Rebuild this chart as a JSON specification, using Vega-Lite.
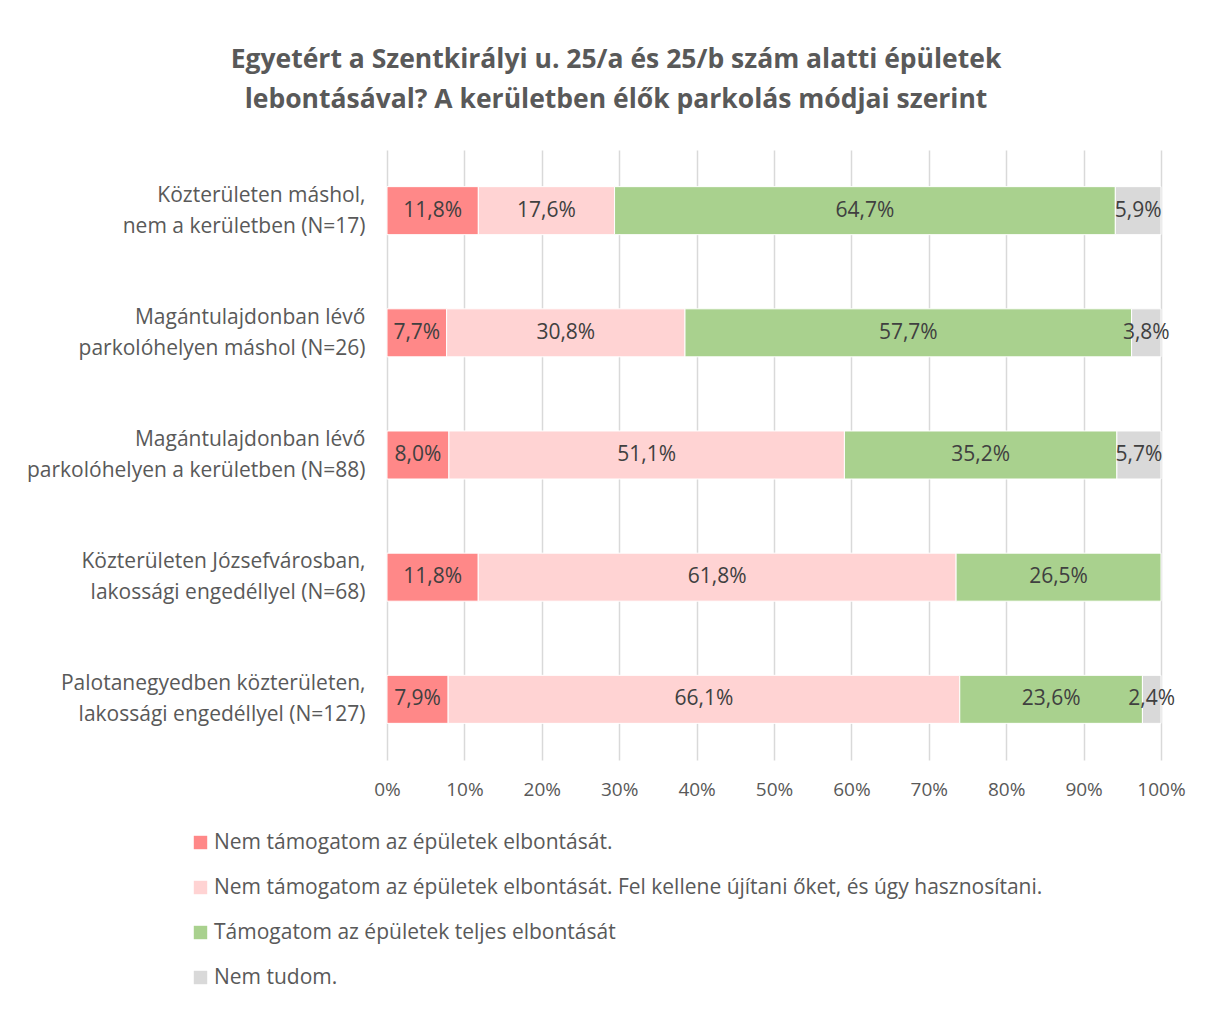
{
  "$schema": "https://vega.github.io/schema/vega-lite/v6.json",
  "autosize": "none",
  "width": 774,
  "height": 610,
  "padding": {"left": 387, "top": 150, "right": 47, "bottom": 252},
  "background": "white",
  "config": {
    "font": "Open Sans",
    "view": {"stroke": null},
    "locale": {"number": {"decimal": ",", "thousands": " ", "grouping": [3], "currency": ["", " Ft"]}}
  },
  "title": {
    "text": ["Egyetért a Szentkirályi u. 25/a és 25/b szám alatti épületek", "lebontásával? A kerületben élők parkolás módjai szerint"],
    "font": "Open Sans",
    "fontSize": 26.5,
    "fontWeight": "bold",
    "color": "#595959",
    "lineHeight": 40,
    "anchor": "middle",
    "dx": -158,
    "offset": 37
  },
  "data": {"values": [
    {"grp": "Közterületen máshol,|nem a kerületben  (N=17)", "cat": "Nem támogatom az épületek elbontását.", "ci": 1, "v": 0.118},
    {"grp": "Közterületen máshol,|nem a kerületben  (N=17)", "cat": "Nem támogatom az épületek elbontását. Fel kellene újítani őket, és úgy hasznosítani.", "ci": 2, "v": 0.176},
    {"grp": "Közterületen máshol,|nem a kerületben  (N=17)", "cat": "Támogatom az épületek teljes elbontását", "ci": 3, "v": 0.647},
    {"grp": "Közterületen máshol,|nem a kerületben  (N=17)", "cat": "Nem tudom.", "ci": 4, "v": 0.059},
    {"grp": "Magántulajdonban lévő|parkolóhelyen máshol (N=26)", "cat": "Nem támogatom az épületek elbontását.", "ci": 1, "v": 0.077},
    {"grp": "Magántulajdonban lévő|parkolóhelyen máshol (N=26)", "cat": "Nem támogatom az épületek elbontását. Fel kellene újítani őket, és úgy hasznosítani.", "ci": 2, "v": 0.308},
    {"grp": "Magántulajdonban lévő|parkolóhelyen máshol (N=26)", "cat": "Támogatom az épületek teljes elbontását", "ci": 3, "v": 0.577},
    {"grp": "Magántulajdonban lévő|parkolóhelyen máshol (N=26)", "cat": "Nem tudom.", "ci": 4, "v": 0.038},
    {"grp": "Magántulajdonban lévő|parkolóhelyen a kerületben (N=88)", "cat": "Nem támogatom az épületek elbontását.", "ci": 1, "v": 0.080},
    {"grp": "Magántulajdonban lévő|parkolóhelyen a kerületben (N=88)", "cat": "Nem támogatom az épületek elbontását. Fel kellene újítani őket, és úgy hasznosítani.", "ci": 2, "v": 0.511},
    {"grp": "Magántulajdonban lévő|parkolóhelyen a kerületben (N=88)", "cat": "Támogatom az épületek teljes elbontását", "ci": 3, "v": 0.352},
    {"grp": "Magántulajdonban lévő|parkolóhelyen a kerületben (N=88)", "cat": "Nem tudom.", "ci": 4, "v": 0.057},
    {"grp": "Közterületen Józsefvárosban,|lakossági engedéllyel (N=68)", "cat": "Nem támogatom az épületek elbontását.", "ci": 1, "v": 0.118},
    {"grp": "Közterületen Józsefvárosban,|lakossági engedéllyel (N=68)", "cat": "Nem támogatom az épületek elbontását. Fel kellene újítani őket, és úgy hasznosítani.", "ci": 2, "v": 0.618},
    {"grp": "Közterületen Józsefvárosban,|lakossági engedéllyel (N=68)", "cat": "Támogatom az épületek teljes elbontását", "ci": 3, "v": 0.265},
    {"grp": "Palotanegyedben közterületen,|lakossági engedéllyel (N=127)", "cat": "Nem támogatom az épületek elbontását.", "ci": 1, "v": 0.079},
    {"grp": "Palotanegyedben közterületen,|lakossági engedéllyel (N=127)", "cat": "Nem támogatom az épületek elbontását. Fel kellene újítani őket, és úgy hasznosítani.", "ci": 2, "v": 0.661},
    {"grp": "Palotanegyedben közterületen,|lakossági engedéllyel (N=127)", "cat": "Támogatom az épületek teljes elbontását", "ci": 3, "v": 0.236},
    {"grp": "Palotanegyedben közterületen,|lakossági engedéllyel (N=127)", "cat": "Nem tudom.", "ci": 4, "v": 0.024}
  ]},
  "encoding": {
    "y": {
      "field": "grp",
      "type": "nominal",
      "sort": ["Közterületen máshol,|nem a kerületben  (N=17)", "Magántulajdonban lévő|parkolóhelyen máshol (N=26)", "Magántulajdonban lévő|parkolóhelyen a kerületben (N=88)", "Közterületen Józsefvárosban,|lakossági engedéllyel (N=68)", "Palotanegyedben közterületen,|lakossági engedéllyel (N=127)"],
      "scale": {"paddingInner": 0.607, "paddingOuter": 0.3},
      "axis": {
        "title": null,
        "ticks": false,
        "domain": false,
        "labelExpr": "split(datum.value, '|')",
        "labelFont": "Open Sans",
        "labelFontSize": 21,
        "labelColor": "#595959",
        "labelLineHeight": 31,
        "labelOffset": -15,
        "labelPadding": 22,
        "labelAlign": "right",
        "labelBaseline": "middle",
        "labelLimit": 400
      }
    },
    "x": {
      "field": "v",
      "type": "quantitative",
      "stack": "normalize",
      "scale": {"domain": [0, 1]},
      "axis": {
        "title": null,
        "format": ".0%",
        "values": [0, 0.1, 0.2, 0.3, 0.4, 0.5, 0.6, 0.7, 0.8, 0.9, 1],
        "labelOverlap": false,
        "labelFlush": false,
        "ticks": false,
        "domain": false,
        "grid": true,
        "gridColor": "#D9D9D9",
        "gridWidth": 1.5,
        "labelFont": "Open Sans",
        "labelFontSize": 19,
        "labelColor": "#595959",
        "labelPadding": 20
      }
    },
    "order": {"field": "ci", "type": "quantitative"}
  },
  "layer": [
    {
      "mark": {"type": "bar", "stroke": "white", "strokeWidth": 1},
      "encoding": {
        "color": {
          "field": "cat",
          "type": "nominal",
          "sort": ["Nem támogatom az épületek elbontását.", "Nem támogatom az épületek elbontását. Fel kellene újítani őket, és úgy hasznosítani.", "Támogatom az épületek teljes elbontását", "Nem tudom."],
          "scale": {
            "domain": ["Nem támogatom az épületek elbontását.", "Nem támogatom az épületek elbontását. Fel kellene újítani őket, és úgy hasznosítani.", "Támogatom az épületek teljes elbontását", "Nem tudom."],
            "range": ["#FF8888", "#FFD3D3", "#A9D18E", "#D9D9D9"]
          },
          "legend": {
            "title": null,
            "orient": "none",
            "direction": "vertical",
            "legendX": -197,
            "legendY": 682,
            "symbolType": "square",
            "symbolSize": 180,
            "symbolStrokeWidth": 0,
            "labelFont": "Open Sans",
            "labelFontSize": 21,
            "labelColor": "#595959",
            "labelOffset": 3,
            "labelLimit": 900,
            "rowPadding": 23
          }
        }
      }
    },
    {
      "mark": {"type": "text", "font": "Open Sans", "fontSize": 21, "color": "#404040", "baseline": "middle", "align": "center"},
      "encoding": {
        "x": {"field": "v", "type": "quantitative", "stack": "normalize", "bandPosition": 0.5},
        "detail": {"field": "cat", "type": "nominal"},
        "text": {"field": "v", "type": "quantitative", "format": ".1%"}
      }
    }
  ]
}
